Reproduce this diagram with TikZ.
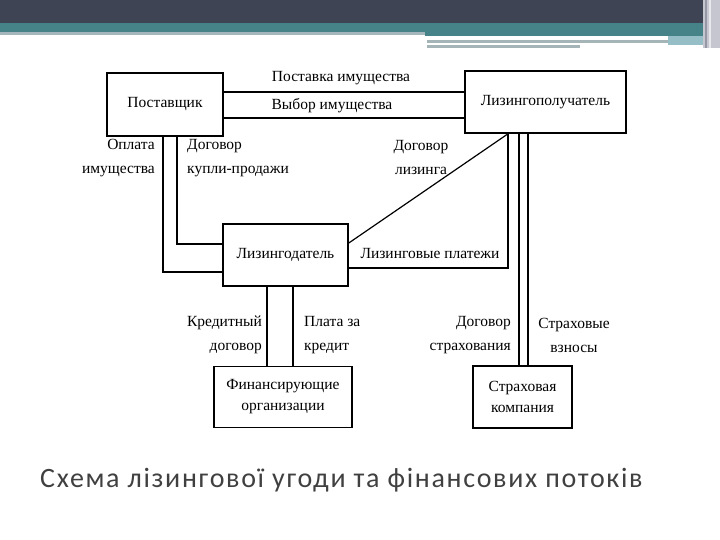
\documentclass[tikz,border=0pt]{standalone}
\usepackage{fontspec}
\setmainfont{Liberation Serif}
\newfontfamily\capfont[LetterSpace=6]{Carlito}
\begin{document}
\begin{tikzpicture}[x=1pt,y=-1pt,
  box/.style={draw,line width=1.6pt,rectangle,inner sep=0pt,font=\fontsize{15.5}{21}\selectfont},
  lab/.style={inner sep=0pt,font=\fontsize{15.5}{24}\selectfont},
  conn/.style={line width=1.7pt}]
\useasboundingbox (0,0) rectangle (720,540);
% header
\fill[fill={rgb,255:red,63;green,68;blue,84}] (0,0) rectangle (703,23);
\fill[fill={rgb,255:red,70;green,131;blue,137}] (0,23) rectangle (703,32);
\fill[fill={rgb,255:red,70;green,131;blue,137}] (425,32) rectangle (703,36);
\fill[fill={rgb,255:red,165;green,183;blue,189}] (0,32) rectangle (425,35);
\fill[fill={rgb,255:red,165;green,180;blue,182}] (427,40) rectangle (668,43);
\fill[fill={rgb,255:red,165;green,180;blue,182}] (427,45) rectangle (580,48);
\fill[fill={rgb,255:red,150;green,190;blue,198}] (668,36) rectangle (703,45);
\fill[fill={rgb,255:red,197;green,198;blue,208}] (703,0) rectangle (720,48);
\fill[fill={rgb,255:red,150;green,152;blue,165}] (705,0) rectangle (707,48);
\fill[fill={rgb,255:red,230;green,232;blue,236}] (709,0) rectangle (711,48);
% boxes
\node[box,minimum width=116pt,minimum height=63pt] (sup) at (165,104.5) {Поставщик};
\node[box,minimum width=161pt,minimum height=62pt] (lessee) at (545.5,102) {Лизингополучатель};
\node[box,minimum width=125pt,minimum height=62pt] (lessor) at (285.5,255) {Лизингодатель};
\node[box,minimum width=138pt,minimum height=61pt,align=center] (fin) at (283,397) {Финансирующие\\организации};
\node[box,minimum width=99pt,minimum height=62pt,align=center] (ins) at (522.5,397) {Страховая\\компания};
% helper coordinates
\coordinate (x163) at (163,0);
\coordinate (x177) at (177,0);
\coordinate (x267) at (267,0);
\coordinate (x293) at (293,0);
\coordinate (x508) at (508,0);
\coordinate (x519) at (519,0);
\coordinate (x528) at (528,0);
\coordinate (y92) at (0,92);
\coordinate (y118) at (0,118);
\coordinate (y243) at (0,243);
\coordinate (y244) at (0,244);
\coordinate (y268) at (0,268);
\coordinate (y272) at (0,272);
% connectors
\draw[conn] (sup.east |- y92) -- (lessee.west |- y92);
\draw[conn] (sup.east |- y118) -- (lessee.west |- y118);
\draw[conn] (sup.south -| x163) |- (lessor.west |- y272);
\draw[conn] (sup.south -| x177) |- (lessor.west |- y244);
\draw[conn] (lessee.south -| x508) |- (lessor.east |- y268);
\draw[line width=1.2pt] (lessor.east |- y243) -- (lessee.south -| x508);
\draw[conn] (lessee.south -| x519) -- (ins.north -| x519);
\draw[conn] (lessee.south -| x528) -- (ins.north -| x528);
\draw[conn] (lessor.south -| x267) -- (fin.north -| x267);
\draw[conn] (lessor.south -| x293) -- (fin.north -| x293);
% labels
\node[lab] (t1) at (341,78) {Поставка имущества};
\node[lab] (t2) at (332,106) {Выбор имущества};
\node[lab,anchor=east,align=right] (t3) at (155,158) {Оплата\\имущества};
\node[lab,anchor=west,align=left] (t4) at (187,158) {Договор\\купли-продажи};
\node[lab,align=center] (t5) at (421,158) {Договор\\лизинга};
\node[lab] (t6) at (430,254) {Лизинговые платежи};
\node[lab,anchor=east,align=right] (t7) at (262,335) {Кредитный\\договор};
\node[lab,anchor=west,align=left] (t8) at (304,335) {Плата за\\кредит};
\node[lab,anchor=east,align=right] (t9) at (511,335) {Договор\\страхования};
\node[lab,align=center] (t10) at (574,335) {Страховые\\взносы};
% caption
\node[anchor=base west,inner sep=0pt,text={rgb,255:red,64;green,64;blue,64},font=\capfont\fontsize{28}{30}\selectfont] (cap) at (40,487) {Схема лізингової угоди та фінансових потоків};
\end{tikzpicture}
\end{document}
